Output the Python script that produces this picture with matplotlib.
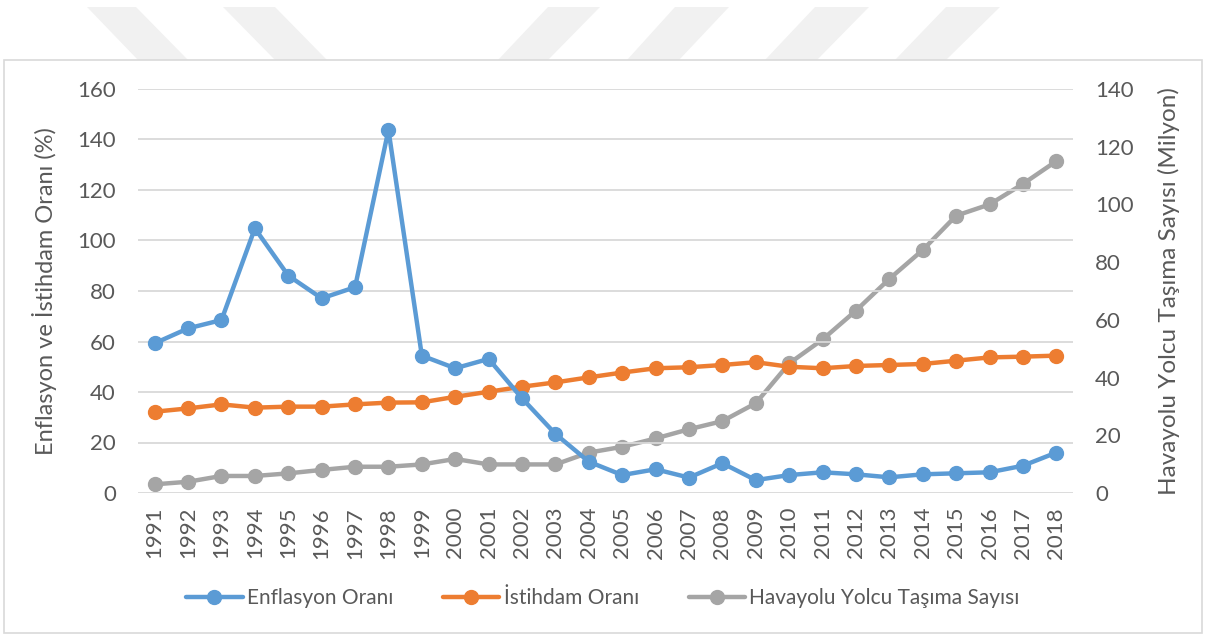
import matplotlib.pyplot as plt
from matplotlib.patches import Rectangle, Polygon

# --- Data ---
years = [str(y) for y in range(1991, 2019)]

enflasyon = [59.3, 65.2, 68.5, 104.8, 86.1, 77.1, 81.5, 143.8, 54.4, 49.4,
             53.1, 37.5, 23.4, 12.4, 7.1, 9.4, 6.1, 11.8, 5.1, 7.1,
             8.2, 7.4, 6.2, 7.4, 7.8, 8.2, 10.8, 16.0]

istihdam = [32.2, 33.5, 35.1, 33.8, 34.2, 34.2, 35.1, 35.8, 35.9, 38.1,
            40.1, 42.1, 43.8, 45.8, 47.7, 49.4, 49.8, 50.7, 51.8, 50.0,
            49.4, 50.3, 50.7, 51.1, 52.4, 53.7, 54.0, 54.4]

havayolu = [3.0, 3.9, 5.9, 5.9, 6.8, 8.0, 9.1, 9.1, 9.9, 11.8,
            9.9, 9.9, 9.9, 14.0, 16.0, 18.9, 22.1, 24.9, 31.1, 44.9,
            53.2, 63.2, 74.2, 84.2, 96.1, 100.0, 107.1, 115.0]

left_ticks = [0, 20, 40, 60, 80, 100, 120, 140, 160]
right_ticks = [0, 20, 40, 60, 80, 100, 120, 140]

BLUE = '#5B9BD5'
ORANGE = '#ED7D31'
GRAY = '#A5A5A5'
TXT = '#595959'

plt.rcParams['font.family'] = ['Lato', 'DejaVu Sans']

W, H = 1206, 636
fig = plt.figure(figsize=(W / 100, H / 100), dpi=100)

# faint watermark stripes at the top
stripes = [
    [(87, 7), (136, 7), (188, 60), (138, 60)],
    [(223, 7), (275, 7), (327, 60), (275, 60)],
    [(548, 7), (600, 7), (548, 60), (498, 60)],
    [(675, 7), (729, 7), (679, 60), (627, 60)],
    [(815, 7), (869, 7), (817, 60), (765, 60)],
    [(946, 7), (1000, 7), (946, 60), (895, 60)],
]
for s in stripes:
    pts = [(x / W, 1 - y / H) for x, y in s]
    fig.patches.append(Polygon(pts, closed=True, transform=fig.transFigure,
                               facecolor='#F1F1F1', edgecolor='none', zorder=0))

# chart area frame
fig.patches.append(Rectangle((4 / W, 1 - 633 / H), 1198 / W, 573 / H,
                             transform=fig.transFigure, facecolor='white',
                             edgecolor='#D9D9D9', linewidth=1.2, zorder=1))

ax = fig.add_axes([138 / W, 1 - 493 / H, (1073 - 138) / W, (493 - 89) / H])
ax.set_zorder(3)
ax.patch.set_visible(False)
ax2 = ax.twinx()
ax2.set_zorder(2)

x = range(len(years))
kw = dict(linewidth=3.2, marker='o', markersize=10, solid_capstyle='round')
l1, = ax.plot(x, enflasyon, color=BLUE, label='Enflasyon Oranı', zorder=4, **kw)
l2, = ax.plot(x, istihdam, color=ORANGE, label='İstihdam Oranı', zorder=3, **kw)
l3, = ax2.plot(x, havayolu, color=GRAY, label='Havayolu Yolcu Taşıma Sayısı', **kw)

ax.set_xlim(-0.5, len(years) - 0.5)
ax.set_ylim(0, 160)
ax2.set_ylim(0, 140)
ax.set_yticks(left_ticks)
ax2.set_yticks(right_ticks)
ax.set_xticks(list(x))
ax.set_xticklabels(years, rotation=90)

ax.grid(axis='y', color='#D9D9D9', linewidth=1.3)
ax.set_axisbelow(True)
for a in (ax, ax2):
    for sp in a.spines.values():
        sp.set_visible(False)
ax.tick_params(axis='y', length=0, pad=16, labelsize=16, labelcolor=TXT)
ax.tick_params(axis='x', length=0, pad=10, labelsize=16, labelcolor=TXT)
ax2.tick_params(axis='y', length=0, pad=16, labelsize=16, labelcolor=TXT)

ax.set_ylabel('Enflasyon ve İstihdam Oranı (%)', fontsize=17, color=TXT)
ax.yaxis.set_label_coords((57 - 138) / (1073 - 138), 0.5)
ax2.set_ylabel('Havayolu Yolcu Taşıma Sayısı (Milyon)', fontsize=17.5, color=TXT,
               rotation=90)
ax2.yaxis.set_label_coords((1158 - 138) / (1073 - 138), 0.5)

fig.legend(handles=[l1, l2, l3], loc='center', bbox_to_anchor=(0.5, 1 - 598 / H),
           ncol=3, frameon=False, fontsize=15, labelcolor=TXT,
           handlelength=2.7, handletextpad=0.2, columnspacing=2.4)

fig.savefig('out.png', dpi=100)
